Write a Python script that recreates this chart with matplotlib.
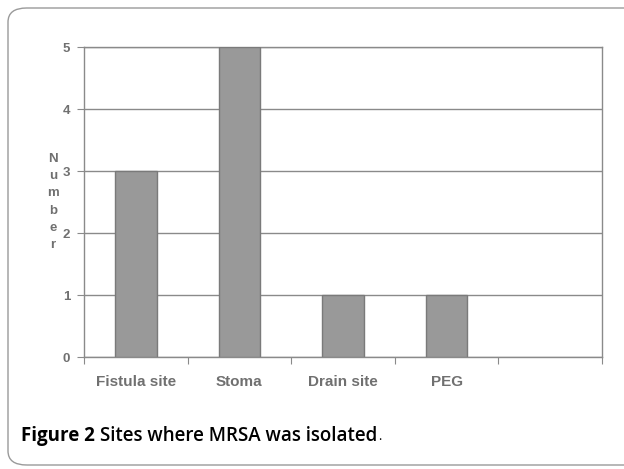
import matplotlib.pyplot as plt
from matplotlib.patches import FancyBboxPatch

# Data
sites = ['Fistula site', 'Stoma', 'Drain site', 'PEG']
counts = [3, 5, 1, 1]
y_ticks = [0, 1, 2, 3, 4, 5]

grey_text = '#707070'
line_grey = '#8a8a8a'

W, H = 624, 469
fig = plt.figure(figsize=(W / 100, H / 100), dpi=100)

# Rounded frame around the figure (right side runs off the picture)
frame = FancyBboxPatch((8 / W, 4 / H), 1.2, 457 / H,
                       boxstyle='round,pad=0,rounding_size=0.03',
                       transform=fig.transFigure, facecolor='none',
                       edgecolor='#9a9a9a', linewidth=1.0, clip_on=False)
fig.patches.append(frame)

ax = fig.add_axes([84 / W, 1 - 357 / H, 518 / W, 310 / H])

ax.bar(range(len(sites)), counts, width=0.4, color='#999999',
       edgecolor='#7a7a7a', linewidth=1.0, zorder=3)

ax.set_xlim(-0.5, 4.5)
ax.set_ylim(0, 5)
ax.set_yticks(y_ticks)
ax.set_yticklabels([str(t) for t in y_ticks], fontsize=9.5, fontweight='bold',
                   color=grey_text, family='Liberation Sans')
ax.grid(axis='y', color=line_grey, linewidth=1.0, zorder=0)

# Category boundaries carry the x ticks, labels sit in the middle
ax.set_xticks([i - 0.5 for i in range(6)])
ax.set_xticklabels([])
ax.tick_params(axis='x', length=5, color=line_grey, direction='out')
ax.tick_params(axis='y', length=5, color=line_grey, direction='out', pad=5)
for i, s in enumerate(sites):
    ax.text(i, -0.40, s, ha='center', va='center', fontsize=11,
            fontweight='bold', color=grey_text, family='Liberation Sans')

for sp in ax.spines.values():
    sp.set_color(line_grey)
    sp.set_linewidth(1.0)

# Stacked y label
fig.text(53 / W, 1 - 202 / H, 'N\nu\nm\nb\ne\nr', ha='center', va='center',
         fontsize=9.5, fontweight='bold', color=grey_text,
         family='Liberation Sans', linespacing=1.6)

# Caption
cap_y = 1 - 436 / H
t1 = fig.text(21 / W, cap_y, 'Figure 2', fontsize=13.5, fontweight='bold',
              color='black', family='Open Sans', va='center')
fig.canvas.draw()
bb = t1.get_window_extent()
t2 = fig.text((bb.x1 + 5) / W, cap_y, 'Sites where MRSA was isolated',
              fontsize=13.5, fontweight='semibold', color='black',
              family='Open Sans', va='center')
bb2 = t2.get_window_extent()
fig.text((bb2.x1 + 1) / W, cap_y, '.', fontsize=9, color='black',
         family='Open Sans', va='center')

fig.savefig('out.png', dpi=100)
